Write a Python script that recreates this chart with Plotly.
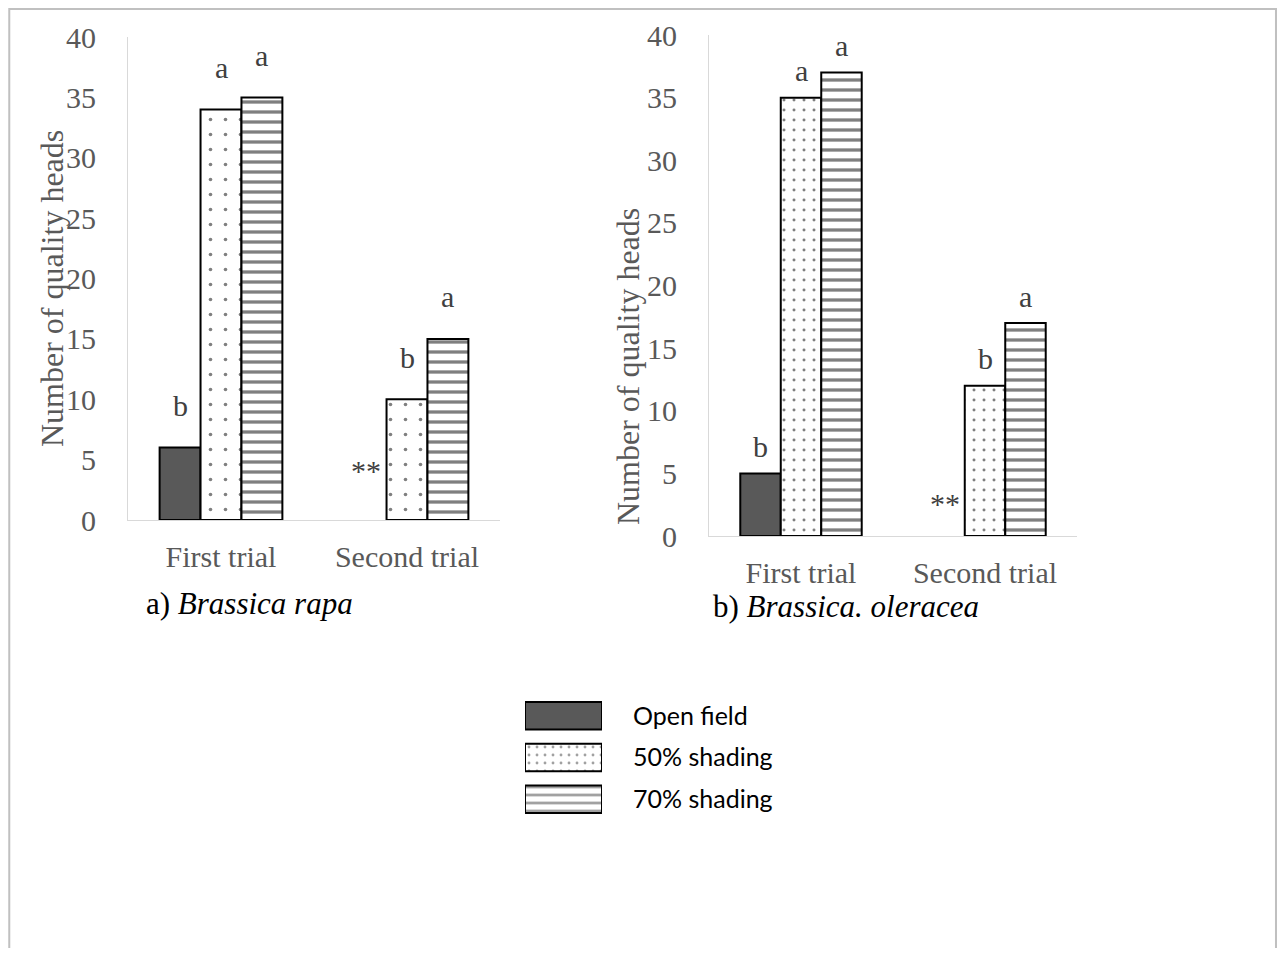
import plotly.graph_objects as go

# page offsets observed in the rendering (body margin)
OX, OY = 8, 8
W, H = 1269, 940

categories = ["First trial", "Second trial"]
treatments = ["Open field", "50% shading", "70% shading"]

rapa_open = [6, None]
rapa_50 = [34, 10]
rapa_70 = [35, 15]
rapa_letters_open = ["b", "**"]
rapa_letters_50 = ["a", "b"]
rapa_letters_70 = ["a", "a"]

oler_open = [5, None]
oler_50 = [35, 12]
oler_70 = [37, 17]
oler_letters_open = ["b", "**"]
oler_letters_50 = ["a", "b"]
oler_letters_70 = ["a", "a"]

y_ticks = [0, 5, 10, 15, 20, 25, 30, 35, 40]
legend_swatch = [1, 1, 1]

SERIF = "Liberation Serif"
TICK_GRAY = "#595959"
LBL_GRAY = "#404040"
AXIS_GRAY = "#d9d9d9"

def px_x(p):
    return (p - OX) / W

def px_y(p):
    return 1 - (p - OY) / H

fig = go.Figure()

def wave_pattern():
    return dict(shape="-", fgcolor="black", bgcolor="white", size=10, solidity=0.33)

def add_panel(xa, ya, vals_open, vals_50, vals_70, dot_size, dot_sol):
    fig.add_trace(go.Bar(x=categories, y=vals_open, name=treatments[0],
                         marker=dict(color="#595959", line=dict(color="black", width=2)),
                         xaxis=xa, yaxis=ya, showlegend=False))
    fig.add_trace(go.Bar(x=categories, y=vals_50, name=treatments[1],
                         marker=dict(color="white", line=dict(color="black", width=2),
                                     pattern=dict(shape=".", fgcolor="black", bgcolor="white",
                                                  size=dot_size, solidity=dot_sol)),
                         xaxis=xa, yaxis=ya, showlegend=False))
    fig.add_trace(go.Bar(x=categories, y=vals_70, name=treatments[2],
                         marker=dict(color="white", line=dict(color="black", width=2),
                                     pattern=wave_pattern()),
                         xaxis=xa, yaxis=ya, showlegend=False))

add_panel("x", "y", rapa_open, rapa_50, rapa_70, 15, 0.045)
add_panel("x2", "y2", oler_open, oler_50, oler_70, 10, 0.07)

# legend swatches
fig.add_trace(go.Bar(y=treatments, x=legend_swatch, orientation="h",
                     marker=dict(color=["#595959", "white", "white"],
                                 line=dict(color="black", width=2),
                                 pattern=dict(shape=["", ".", "-"], fgcolor="black", bgcolor="white",
                                              size=[8, 8, 8], solidity=[0.3, 0.1, 0.35])),
                     xaxis="x3", yaxis="y3", showlegend=False))

axis_common_x = dict(type="category", range=[-0.5, 1.5], showline=True, linecolor=AXIS_GRAY,
                     linewidth=1, showgrid=False, zeroline=False, ticks="", automargin=False,
                     tickfont=dict(family=SERIF, size=30, color=TICK_GRAY),
                     ticklabelstandoff=10)
axis_common_y = dict(range=[0, 40], tickvals=y_ticks, showline=True, linecolor=AXIS_GRAY,
                     linewidth=1, showgrid=False, zeroline=False, ticks="", automargin=False,
                     tickfont=dict(family=SERIF, size=30, color=TICK_GRAY),
                     ticklabelstandoff=25)

fig.update_layout(
    width=W, height=H, autosize=False,
    margin=dict(l=0, r=0, t=0, b=0, pad=0),
    paper_bgcolor="white", plot_bgcolor="white",
    barmode="group", bargap=0.34, bargroupgap=0,
    xaxis=dict(domain=[px_x(128), px_x(500)], anchor="y", **axis_common_x),
    yaxis=dict(domain=[px_y(520), px_y(37)], anchor="x", **axis_common_y),
    xaxis2=dict(domain=[px_x(709), px_x(1077)], anchor="y2", **axis_common_x),
    yaxis2=dict(domain=[px_y(536), px_y(35)], anchor="x2", **axis_common_y),
    xaxis3=dict(domain=[px_x(525), px_x(602)], anchor="y3", range=[0, 1], visible=False,
                fixedrange=True, automargin=False),
    yaxis3=dict(domain=[px_y(820), px_y(695)], anchor="x3", side="right", type="category",
                categoryorder="array", categoryarray=treatments, autorange="reversed",
                showline=False, showgrid=False, zeroline=False, ticks="", automargin=False,
                tickfont=dict(family="Lato", size=25, color="black"),
                ticklabelstandoff=30),
)

# letters
def add_letters(xa, ya, vals_list, letters_list, shift, star_y):
    offsets = [-0.22, 0.0, 0.22]
    for j, (vals, letters) in enumerate(zip(vals_list, letters_list)):
        for i, (v, t) in enumerate(zip(vals, letters)):
            if v is None:
                y, ys = star_y, 0
            else:
                y, ys = v, shift
            fig.add_annotation(x=i + offsets[j], y=y, xref=xa, yref=ya, text=t,
                               showarrow=False, xanchor="center", yanchor="middle", yshift=ys,
                               font=dict(family=SERIF, size=30, color=LBL_GRAY))

add_letters("x", "y", [rapa_open, rapa_50, rapa_70],
            [rapa_letters_open, rapa_letters_50, rapa_letters_70], 42, 4.1)
add_letters("x2", "y2", [oler_open, oler_50, oler_70],
            [oler_letters_open, oler_letters_50, oler_letters_70], 27, 2.6)

# y axis titles
fig.add_annotation(x=px_x(52), y=px_y(289), xref="paper", yref="paper",
                   xanchor="center", yanchor="middle",
                   text="Number of quality heads", textangle=-90, showarrow=False,
                   font=dict(family=SERIF, size=32, color=TICK_GRAY))
fig.add_annotation(x=px_x(628), y=px_y(367), xref="paper", yref="paper",
                   xanchor="center", yanchor="middle",
                   text="Number of quality heads", textangle=-90, showarrow=False,
                   font=dict(family=SERIF, size=32, color=TICK_GRAY))

# captions
fig.add_annotation(x=px_x(144), y=px_y(603), xref="paper", yref="paper",
                   xanchor="left", yanchor="middle",
                   text="a) <i>Brassica rapa</i>", showarrow=False,
                   font=dict(family=SERIF, size=31, color="black"))
fig.add_annotation(x=px_x(711), y=px_y(606), xref="paper", yref="paper",
                   xanchor="left", yanchor="middle",
                   text="b) <i>Brassica. oleracea</i>", showarrow=False,
                   font=dict(family=SERIF, size=31, color="black"))

# outer border
fig.add_shape(type="rect", xref="paper", yref="paper",
              x0=0.001, x1=0.9992, y0=-0.02, y1=0.999,
              line=dict(color="#c0c0c0", width=2), fillcolor="rgba(0,0,0,0)", layer="below")

fig.write_html("out.html")
